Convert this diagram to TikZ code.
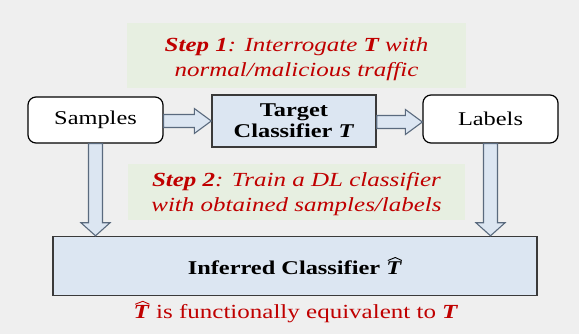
\documentclass[tikz,border=0pt]{standalone}
\usepackage{fontspec}
\setmainfont{Liberation Serif}[FakeStretch=1.25]
\usetikzlibrary{calc}
\definecolor{bg}{HTML}{EFEFEF}
\definecolor{stepfill}{HTML}{E7EFE1}
\definecolor{bluefill}{HTML}{DCE6F2}
\definecolor{darkred}{HTML}{C00000}
\definecolor{arrowline}{HTML}{5A6A7E}
\definecolor{boxline}{HTML}{3A3A3A}
\newcommand\That{\tikz[baseline=(t.base)]{\node[inner sep=0pt, outer sep=0pt, minimum width=0pt,
    minimum height=0pt, draw=none, fill=none, rounded corners=0pt] (t) {\bfseries\itshape T};
  \draw[line width=0.9pt, line join=miter, fill=none] ($(t.north west)+(1.5pt,1.5pt)$) -- ($(t.north)+(1.5pt,4.5pt)$) -- ($(t.north east)+(0.5pt,1.5pt)$);}}
\newcommand\hblock[2]{\draw[blockarrow] let \p1=(#1.east), \p2=(#2.west) in
  (\x1,\y1-1pt+6.5pt) -- (\x2-17pt,\y1-1pt+6.5pt) -- (\x2-17pt,\y1-1pt+12.5pt) -- (\x2,\y1-1pt)
  -- (\x2-17pt,\y1-1pt-12.5pt) -- (\x2-17pt,\y1-1pt-6.5pt) -- (\x1,\y1-1pt-6.5pt) -- cycle;}
\newcommand\vblock[2]{\draw[blockarrow] let \p1=(#1.south), \p2=(#2.north) in
  (\x1-7pt,\y1) -- (\x1-7pt,\y2+13pt) -- (\x1-14.5pt,\y2+13pt) -- (\x1,\y2)
  -- (\x1+14.5pt,\y2+13pt) -- (\x1+7pt,\y2+13pt) -- (\x1+7pt,\y1) -- cycle;}
\tikzset{
  whitebox/.style={draw=black, line width=1.2pt, fill=white, rounded corners=8pt,
    font=\fontsize{19.5}{22}\selectfont, inner sep=0pt},
  bluebox/.style={draw=boxline, line width=1.4pt, fill=bluefill, align=center,
    font=\fontsize{19.5}{21}\selectfont\bfseries, inner sep=0pt},
  stepbox/.style={fill=stepfill, align=center, text=darkred,
    font=\fontsize{20}{25}\selectfont\itshape, inner sep=0pt},
  blockarrow/.style={draw=arrowline, line width=1.1pt, fill=bluefill, line join=miter},
  redtext/.style={text=darkred, font=\fontsize{20}{22}\selectfont, inner sep=0pt}
}
\begin{document}
\begin{tikzpicture}[x=1pt,y=-1pt]
\fill[bg] (0,0) rectangle (579,334);
\useasboundingbox (0,0) rectangle (579,334);
\node[stepbox, minimum width=339pt, minimum height=65pt] (step1) at (296.5,56) {};
\node[stepbox] (step1text) at (296.5,59)
  {\textbf{Step 1}: Interrogate \textbf{T} with\\normal/malicious traffic};
\node[whitebox, minimum width=135pt, minimum height=46pt] (samples) at (95.5,120) {Samples};
\node[bluebox, minimum width=164pt, minimum height=52pt] (target) at (294,121)
  {Target\\Classifier \textit{T}};
\node[whitebox, minimum width=135pt, minimum height=48pt] (labels) at (490.5,119) {Labels};
\node[stepbox, minimum width=337pt, minimum height=56pt] (step2) at (296.5,192) {};
\node[stepbox] (step2text) at (296.5,194.5)
  {\textbf{Step 2}: Train a DL classifier\\with obtained samples/labels};
\node[bluebox, minimum width=484pt, minimum height=59pt] (inferred) at (295,266)
  {Inferred Classifier \That};
\node[redtext] (equiv) at (296,312) {\That{} is functionally equivalent to \textbf{\textit{T}}};
\hblock{samples}{target}
\hblock{target}{labels}
\vblock{samples}{inferred}
\vblock{labels}{inferred}
\end{tikzpicture}
\end{document}
